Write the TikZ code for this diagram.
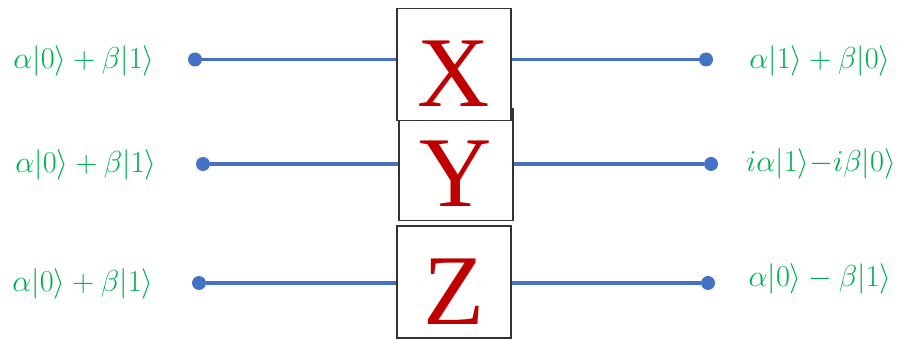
\documentclass[tikz,border=0pt]{standalone}
\usepackage{amsmath,amssymb}
\usepackage{fontspec}
\newfontfamily\gatefont{Liberation Serif}
\usepackage{xcolor}
\usepackage{tikz}
\usetikzlibrary{arrows.meta,positioning,calc}

\definecolor{wireblue}{RGB}{68,114,196}
\definecolor{stategreen}{RGB}{0,176,80}
\definecolor{gatered}{RGB}{192,0,0}

\begin{document}
\begin{tikzpicture}[x=0.02cm,y=-0.02cm,
  gate/.style={draw=black!80,line width=0.8pt,fill=white,minimum width=2.28cm,minimum height=2.24cm,
    inner sep=0pt,text height=1.7cm,text depth=0pt,font=\gatefont\fontsize{57}{57}\selectfont,text=gatered},
  dot/.style={circle,fill=wireblue,inner sep=0pt,minimum size=0.28cm},
  state/.style={text=stategreen,font=\fontsize{17.5}{20}\selectfont,inner sep=0pt},
  wire/.style={wireblue,line width=1.8pt}
]
\useasboundingbox (0,0) rectangle (898,340);
% gates (Y under X)
\node[gate] (gy) at (456,164.5) {Y};
\node[gate] (gx) at (454,64.5) {X};
\node[gate] (gz) at (454,282) {Z};
% end points
\node[dot] (inx) at (195,59.5) {};
\node[dot] (outx) at (706,59.5) {};
\node[dot] (iny) at (203,164) {};
\node[dot] (outy) at (711,164) {};
\node[dot] (inz) at (199,283) {};
\node[dot] (outz) at (708,283) {};
% states
\node[state] (sx) at (84,61) {$\alpha|0\rangle+\beta|1\rangle$};
\node[state] (sy) at (86,165) {$\alpha|0\rangle+\beta|1\rangle$};
\node[state] (sz) at (83,284) {$\alpha|0\rangle+\beta|1\rangle$};
\node[state] (tx) at (820,61) {$\alpha|1\rangle+\beta|0\rangle$};
\node[state] (ty) at (821,164) {$i\alpha|1\rangle{-}i\beta|0\rangle$};
\node[state] (tz) at (820,279) {$\alpha|0\rangle-\beta|1\rangle$};
% wires
\draw[wire] (inx) -- (gx.west|-inx);
\draw[wire] (gx.east|-outx) -- (outx);
\draw[wire] (iny) -- (gy.west|-iny);
\draw[wire] (gy.east|-outy) -- (outy);
\draw[wire] (inz) -- (gz.west|-inz);
\draw[wire] (gz.east|-outz) -- (outz);
\end{tikzpicture}
\end{document}
